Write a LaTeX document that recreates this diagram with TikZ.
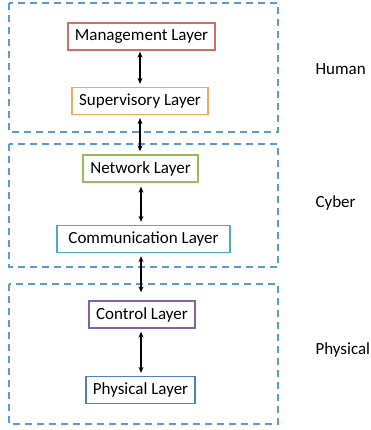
\documentclass[tikz,border=0pt]{standalone}
\usepackage{fontspec}
\setmainfont{Carlito}
\usepackage{tikz}
\usetikzlibrary{arrows.meta}

\definecolor{zoneblue}{HTML}{5B9BD5}
\definecolor{mgmtred}{HTML}{D46A6A}
\definecolor{suporange}{HTML}{F9A65A}
\definecolor{netgreen}{HTML}{9BBB59}
\definecolor{commcyan}{HTML}{4BACC6}
\definecolor{ctrlpurple}{HTML}{8064A2}
\definecolor{physblue}{HTML}{4F81BD}

\begin{document}
\begin{tikzpicture}[x=1pt, y=-1pt,
    layer/.style={draw, line width=1.3pt, fill=white, minimum height=27pt,
      inner sep=0pt, font=\fontsize{17}{19}\selectfont},
    zone/.style={draw=zoneblue, line width=1.8pt, dash pattern=on 7pt off 5pt},
    link/.style={{Stealth[length=6pt,width=5pt]}-{Stealth[length=6pt,width=5pt]},
      line width=1.6pt, shorten <=3pt, shorten >=3pt},
    side/.style={anchor=west, font=\fontsize{17}{19}\selectfont}]

\useasboundingbox (0,0) rectangle (370,430);

% Zones
\draw[zone] (9,3) rectangle (278,132);
\draw[zone] (9,144) rectangle (278,267);
\draw[zone] (9,284) rectangle (278,424);

% Layers
\node[layer, draw=mgmtred, minimum width=147pt] (mgmt) at (141.5,36.5) {Management Layer};
\node[layer, draw=suporange, minimum width=136pt] (sup) at (140,101) {Supervisory Layer};
\node[layer, draw=netgreen, minimum width=115pt] (net) at (140.5,168.5) {Network Layer};
\node[layer, draw=commcyan, minimum width=173pt] (comm) at (143.5,239) {Communication Layer};
\node[layer, draw=ctrlpurple, minimum width=106pt] (ctrl) at (142,314.5) {Control Layer};
\node[layer, draw=physblue, minimum width=109pt] (phys) at (140.5,390) {Physical Layer};

% Links
\draw[link, shorten <=1pt] (mgmt.south -| 140,0) -- (sup.north -| 140,0);
\draw[link] (sup.south -| 140,0) -- (net.north -| 140,0);
\draw[link, shorten <=4pt] (net.south -| 141,0) -- (comm.north -| 141,0);
\draw[link, shorten >=8pt] (comm.south -| 141,0) -- (ctrl.north -| 141,0);
\draw[link] (ctrl.south -| 141,0) -- (phys.north -| 141,0);

% Side labels
\node[side] (human) at (312,69) {Human};
\node[side] (cyber) at (312,203) {Cyber};
\node[side] (physical) at (312,350) {Physical};

\end{tikzpicture}
\end{document}
